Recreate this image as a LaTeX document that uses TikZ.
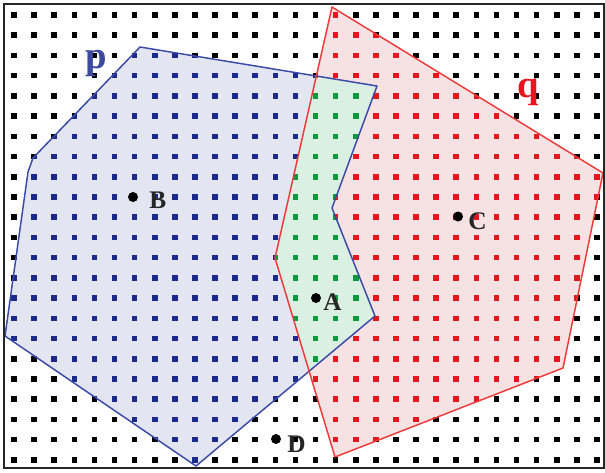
\documentclass[tikz,border=0pt]{standalone}
\usepackage{fontspec}
\setmainfont{Liberation Serif}
\definecolor{pfill}{HTML}{E3E5F1}
\definecolor{qfill}{HTML}{F6E2E2}
\definecolor{pqfill}{HTML}{DCEFE3}
\definecolor{pdot}{HTML}{1C2A8E}
\definecolor{qdot}{HTML}{E8141E}
\definecolor{pqdot}{HTML}{0A9A3C}
\definecolor{pline}{HTML}{3A4AA6}
\definecolor{qline}{HTML}{EE3A3A}
\tikzset{
  ptlabel/.style={font=\fontsize{19pt}{19pt}\selectfont\bfseries, text=black!85, inner sep=0pt},
  polylabel/.style={font=\fontsize{29pt}{29pt}\selectfont\bfseries, inner sep=0pt},
  ptdot/.style={circle, fill=black, inner sep=0pt, minimum size=7.5pt}
}
\begin{document}
\begin{tikzpicture}[x=0.75pt,y=-0.75pt]
\useasboundingbox (0,0) rectangle (605,472);
% polygon p
\coordinate (p1) at (140,47);
\coordinate (p2) at (377,86);
\coordinate (p3) at (332,208);
\coordinate (p4) at (375,316);
\coordinate (p5) at (196,466);
\coordinate (p6) at (5,336);
\coordinate (p7) at (28,172);
\coordinate (p8) at (33,158);
% polygon q
\coordinate (q1) at (332,7);
\coordinate (q2) at (603,173);
\coordinate (q3) at (563,368);
\coordinate (q4) at (335,457);
\coordinate (q5) at (275,258);
% fills
\fill[pfill] (p1)--(p2)--(p3)--(p4)--(p5)--(p6)--(p7)--(p8)--cycle;
\fill[qfill] (q1)--(q2)--(q3)--(q4)--(q5)--cycle;
% black dots
\foreach \i in {0,...,29} \foreach \j in {0,...,22}
  \fill[black] ({14+20.1*\i-2.8},{15+20.22*\j-2.8}) rectangle ++(5.6,5.6);
\begin{scope}
  \clip (p1)--(p2)--(p3)--(p4)--(p5)--(p6)--(p7)--(p8)--cycle;
  \fill[pfill] (0,0) rectangle (605,472);
  \foreach \i in {0,...,29} \foreach \j in {0,...,22}
    \fill[pdot] ({14+20.1*\i-2.8},{15+20.22*\j-2.8}) rectangle ++(5.6,5.6);
\end{scope}
\begin{scope}
  \clip (q1)--(q2)--(q3)--(q4)--(q5)--cycle;
  \fill[qfill] (0,0) rectangle (605,472);
  \foreach \i in {0,...,29} \foreach \j in {0,...,22}
    \fill[qdot] ({14+20.1*\i-2.8},{15+20.22*\j-2.8}) rectangle ++(5.6,5.6);
\end{scope}
\begin{scope}
  \clip (p1)--(p2)--(p3)--(p4)--(p5)--(p6)--(p7)--(p8)--cycle;
  \clip (q1)--(q2)--(q3)--(q4)--(q5)--cycle;
  \fill[pqfill] (0,0) rectangle (605,472);
  \foreach \i in {0,...,29} \foreach \j in {0,...,22}
    \fill[pqdot] ({14+20.1*\i-2.8},{15+20.22*\j-2.8}) rectangle ++(5.6,5.6);
\end{scope}
% outlines
\draw[pline, line width=1.1pt, line join=round] (p1)--(p2)--(p3)--(p4)--(p5)--(p6)--(p7)--(p8)--cycle;
\draw[qline, line width=1.1pt, line join=round] (q1)--(q2)--(q3)--(q4)--(q5)--cycle;
% polygon labels
\node[polylabel, text=pdot!85!white] (lp) at (96,63) {p};
\node[polylabel, text=qdot] (lq) at (528,92) {q};
% points
\node[ptdot] (B) at (133,197) {};
\node[ptlabel, anchor=west] (lB) at (149,200) {B};
\node[ptdot] (C) at (458,216.5) {};
\node[ptlabel, anchor=west] (lC) at (468,221) {C};
\node[ptdot] (A) at (316,298) {};
\node[ptlabel, anchor=west] (lA) at (323,302) {A};
\node[ptdot] (D) at (276,439) {};
\node[ptlabel, anchor=west] (lD) at (287,444) {D};
% frame
\draw[black!85, line width=1.5pt] (4,4) rectangle (604,468);
\end{tikzpicture}
\end{document}
